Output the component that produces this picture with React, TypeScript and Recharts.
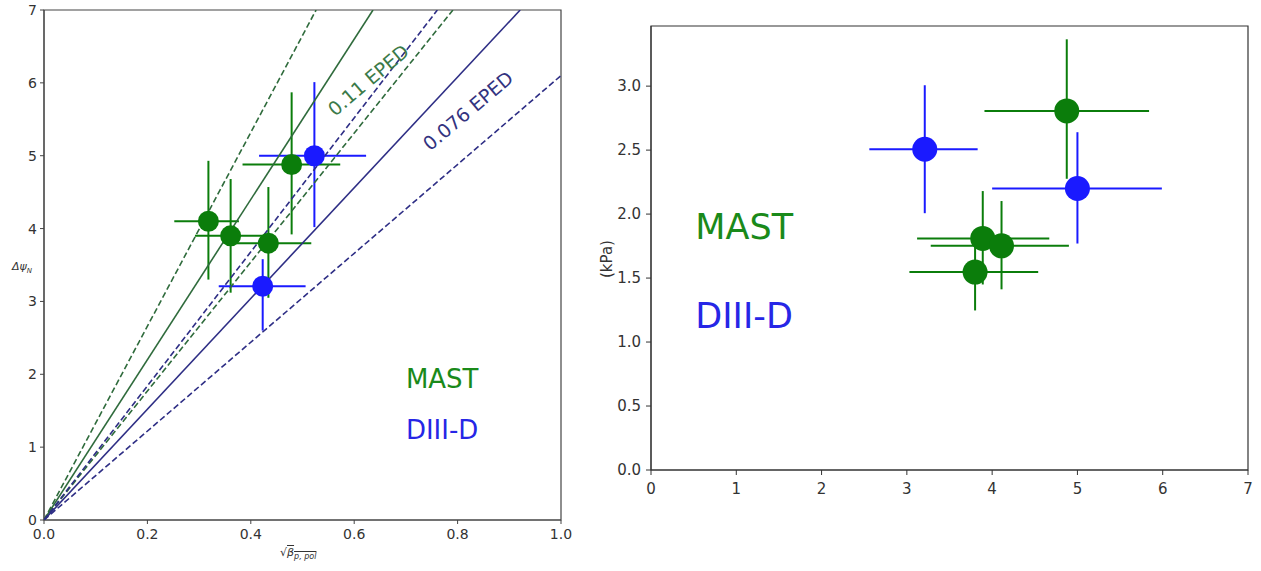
import { ScatterChart, Scatter, XAxis, YAxis, ErrorBar, ReferenceDot, ReferenceArea } from 'recharts';

// pedestal width vs sqrt(beta_p,pol)
const mastBeta = [0.318, 0.361, 0.434, 0.479];
const mastWidth = [4.1, 3.9, 3.8, 4.88];
const mastBetaErr = [[0.066, 0.059], [0.069, 0.064], [0.076, 0.083], [0.095, 0.094]];
const mastWidthErr = [[0.8, 0.83], [0.78, 0.78], [0.75, 0.77], [0.96, 0.99]];

const d3dBeta = [0.523, 0.423];
const d3dWidth = [5.0, 3.21];
const d3dBetaErr = [[0.107, 0.1], [0.085, 0.083]];
const d3dWidthErr = [[0.98, 1.01], [0.61, 0.37]];

// EPED scaling lines through the origin (slope, dashed?)
const mastSlopes = [13.3, 11.0, 8.85];
const d3dSlopes = [9.2, 7.6, 6.1];
const slopeDashed = [true, false, true];

// pedestal pressure
const mastX = [4.875, 3.89, 4.11, 3.8];
const mastP = [2.806, 1.81, 1.752, 1.547];
const mastXErr = [[0.965, 0.965], [0.77, 0.78], [0.83, 0.79], [0.77, 0.74]];
const mastPErr = [[0.53, 0.56], [0.36, 0.37], [0.34, 0.35], [0.3, 0.3]];

const d3dX = [3.21, 5.0];
const d3dP = [2.507, 2.2];
const d3dXErr = [[0.65, 0.62], [1.0, 0.99]];
const d3dPErr = [[0.5, 0.5], [0.43, 0.44]];

const betaTicks = [0, 0.2, 0.4, 0.6, 0.8, 1.0];
const widthTicks = [0, 1, 2, 3, 4, 5, 6, 7];
const xTicksRight = [0, 1, 2, 3, 4, 5, 6, 7];
const pTicks = [0, 0.5, 1.0, 1.5, 2.0, 2.5, 3.0];

const GREEN = '#0b7d0b';
const BLUE = '#1a1aff';
const GREEN_LINE = '#2f6b3c';
const BLUE_LINE = '#2e2e85';
const FONT = '"DejaVu Sans", sans-serif';

const points = (xs: number[], ys: number[], xe: number[][], ye: number[][]) =>
  xs.map((x, i) => ({ x, y: ys[i], ex: xe[i], ey: ye[i] }));

const linePoints = (slope: number, xMax: number, yMax: number) => {
  const end = Math.min(xMax, yMax / slope);
  return [{ x: 0, y: 0 }, { x: end, y: slope * end }];
};

const dot = (r: number, color: string) => (p: any) => <circle cx={p.cx} cy={p.cy} r={r} fill={color} />;
const noShape = () => <g />;

const textAt = (text: string, color: string, size: number, angle = 0, anchor = 'middle') => ({
  content: (p: any) => {
    const vb = p.viewBox || {};
    const x = vb.x + (vb.width || 0) / 2;
    const y = vb.y + (vb.height || 0) / 2;
    return (
      <text
        x={x}
        y={y}
        fill={color}
        fontSize={size}
        fontFamily={FONT}
        textAnchor={anchor}
        dominantBaseline="central"
        transform={angle ? `rotate(${angle} ${x} ${y})` : undefined}
      >
        {text}
      </text>
    );
  },
});

const tickStyle = (size: number) => ({ fontSize: size, fill: '#333', fontFamily: FONT });

function WidthPanel() {
  return (
    <ScatterChart width={600} height={571} margin={{ top: 10, right: 39, bottom: 21, left: 0 }}>
      <XAxis
        type="number"
        dataKey="x"
        domain={[0, 1]}
        ticks={betaTicks}
        tickFormatter={(v: number) => v.toFixed(1)}
        height={30}
        tickSize={4}
        tickMargin={5}
        stroke="#444"
        tick={tickStyle(14)}
        allowDataOverflow
      />
      <YAxis
        type="number"
        dataKey="y"
        domain={[0, 7]}
        ticks={widthTicks}
        width={44}
        tickSize={4}
        tickMargin={3}
        stroke="#444"
        tick={tickStyle(14)}
        allowDataOverflow
      />
      <ReferenceArea x1={0} x2={1} y1={0} y2={7} fill="none" stroke="#444" strokeWidth={1.2} />

      {mastSlopes.map((s, i) => (
        <Scatter
          key={'m' + i}
          data={linePoints(s, 1, 7)}
          shape={noShape}
          line={{ stroke: GREEN_LINE, strokeWidth: 1.6, strokeDasharray: slopeDashed[i] ? '6 3' : undefined }}
          isAnimationActive={false}
        />
      ))}
      {d3dSlopes.map((s, i) => (
        <Scatter
          key={'d' + i}
          data={linePoints(s, 1, 7)}
          shape={noShape}
          line={{ stroke: BLUE_LINE, strokeWidth: 1.6, strokeDasharray: slopeDashed[i] ? '6 3' : undefined }}
          isAnimationActive={false}
        />
      ))}

      <Scatter data={points(mastBeta, mastWidth, mastBetaErr, mastWidthErr)} shape={dot(10.5, GREEN)} isAnimationActive={false}>
        <ErrorBar dataKey="ex" direction="x" width={0} stroke={GREEN} strokeWidth={2} />
        <ErrorBar dataKey="ey" direction="y" width={0} stroke={GREEN} strokeWidth={2} />
      </Scatter>
      <Scatter data={points(d3dBeta, d3dWidth, d3dBetaErr, d3dWidthErr)} shape={dot(10.5, BLUE)} isAnimationActive={false}>
        <ErrorBar dataKey="ex" direction="x" width={0} stroke={BLUE} strokeWidth={2} />
        <ErrorBar dataKey="ey" direction="y" width={0} stroke={BLUE} strokeWidth={2} />
      </Scatter>

      <ReferenceDot x={0.627} y={6.04} r={1} fill="none" stroke="none" ifOverflow="visible" label={textAt('0.11 EPED', '#3b7a48', 19, -40)} />
      <ReferenceDot x={0.82} y={5.62} r={1} fill="none" stroke="none" ifOverflow="visible" label={textAt('0.076 EPED', '#33337f', 19, -40)} />
      <ReferenceDot x={0.7} y={1.93} r={1} fill="none" stroke="none" ifOverflow="visible" label={textAt('MAST', '#1a8a1a', 26, 0, 'start')} />
      <ReferenceDot x={0.7} y={1.23} r={1} fill="none" stroke="none" ifOverflow="visible" label={textAt('DIII-D', '#2626e6', 26, 0, 'start')} />
    </ScatterChart>
  );
}

function PressurePanel() {
  return (
    <ScatterChart width={661} height={571} margin={{ top: 26, right: 13, bottom: 71, left: 0 }}>
      <XAxis
        type="number"
        dataKey="x"
        domain={[0, 7]}
        ticks={xTicksRight}
        height={30}
        tickSize={5}
        tickMargin={8}
        stroke="#333"
        tick={tickStyle(15)}
        allowDataOverflow
      />
      <YAxis
        type="number"
        dataKey="y"
        domain={[0, 3.47]}
        ticks={pTicks}
        tickFormatter={(v: number) => v.toFixed(1)}
        width={51}
        tickSize={5}
        tickMargin={5}
        stroke="#333"
        tick={tickStyle(15)}
        allowDataOverflow
      />
      <ReferenceArea x1={0} x2={7} y1={0} y2={3.47} fill="none" stroke="#333" strokeWidth={1.2} />

      <Scatter data={points(mastX, mastP, mastXErr, mastPErr)} shape={dot(12.5, GREEN)} isAnimationActive={false}>
        <ErrorBar dataKey="ex" direction="x" width={0} stroke={GREEN} strokeWidth={2} />
        <ErrorBar dataKey="ey" direction="y" width={0} stroke={GREEN} strokeWidth={2} />
      </Scatter>
      <Scatter data={points(d3dX, d3dP, d3dXErr, d3dPErr)} shape={dot(12.5, BLUE)} isAnimationActive={false}>
        <ErrorBar dataKey="ex" direction="x" width={0} stroke={BLUE} strokeWidth={2} />
        <ErrorBar dataKey="ey" direction="y" width={0} stroke={BLUE} strokeWidth={2} />
      </Scatter>

      <ReferenceDot x={0.52} y={1.9} r={1} fill="none" stroke="none" ifOverflow="visible" label={textAt('MAST', '#1a8a1a', 35, 0, 'start')} />
      <ReferenceDot x={0.52} y={1.2} r={1} fill="none" stroke="none" ifOverflow="visible" label={textAt('DIII-D', '#2626e6', 35, 0, 'start')} />
    </ScatterChart>
  );
}

export default function App() {
  return (
    <div style={{ position: 'absolute', left: 0, top: 0, width: 1261, height: 571, background: '#fff', fontFamily: FONT }}>
      <div style={{ position: 'absolute', left: 0, top: 0 }}>
        <WidthPanel />
      </div>
      <div style={{ position: 'absolute', left: 600, top: 0 }}>
        <PressurePanel />
      </div>
      <div style={{ position: 'absolute', left: 12, top: 260, fontSize: 11, color: '#333', fontStyle: 'italic' }}>
        Δψ<sub style={{ fontSize: 7 }}>N</sub>
      </div>
      <div style={{ position: 'absolute', left: 280, top: 546, fontSize: 11, color: '#333', fontStyle: 'italic' }}>
        √<span style={{ textDecoration: 'overline' }}>β<sub style={{ fontSize: 8 }}>p, pol</sub></span>
      </div>
      <div
        style={{
          position: 'absolute',
          left: 588,
          top: 250,
          fontSize: 15,
          color: '#333',
          transform: 'rotate(-90deg)',
          transformOrigin: 'center',
        }}
      >
        (kPa)
      </div>
    </div>
  );
}
